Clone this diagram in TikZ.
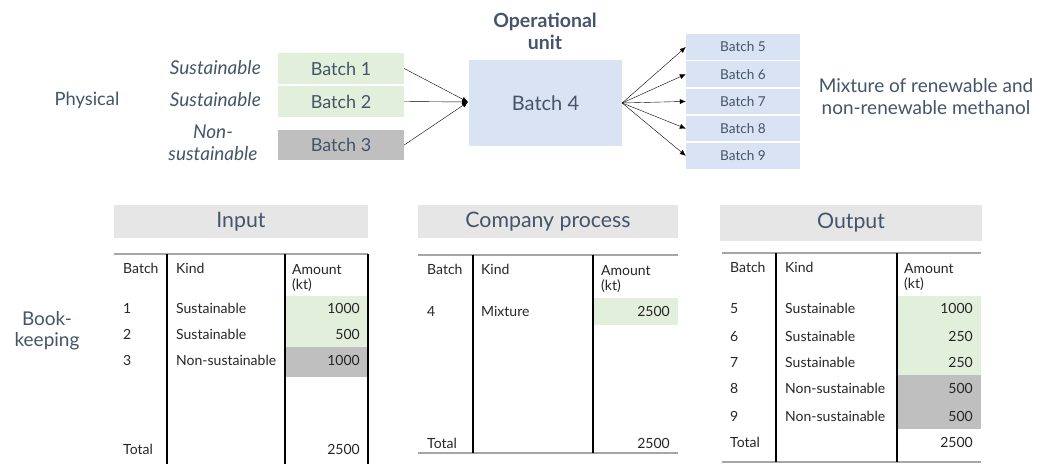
\documentclass[tikz,border=0pt]{standalone}
\usepackage{fontspec}
\setmainfont{Lato}
\usetikzlibrary{arrows.meta}
\definecolor{slate}{HTML}{44546A}
\definecolor{susgreen}{HTML}{E2EFDA}
\definecolor{nongrey}{HTML}{BFBFBF}
\definecolor{unitblue}{HTML}{DAE3F3}
\definecolor{headgrey}{HTML}{E7E6E6}
\definecolor{rulegrey}{HTML}{A6A6A6}
\newcommand{\fs}[1]{\fontsize{#1}{1.2\dimexpr#1pt\relax}\selectfont}

\begin{document}
\begin{tikzpicture}[
x=1pt,y=-1pt,
inbatch/.style={rectangle,inner sep=0pt,minimum width=126pt,text=slate,font=\fs{18}},
unit/.style={rectangle,fill=unitblue,inner sep=0pt,minimum width=153pt,minimum height=86pt,text=slate,font=\fs{20}},
outbatch/.style={rectangle,fill=unitblue,inner sep=0pt,minimum width=114pt,minimum height=25.5pt,text=slate,font=\fs{13.6}},
side/.style={text=slate,inner sep=0pt,align=center,font=\fontsize{18.3}{22}\selectfont},
kind/.style={text=slate,inner sep=0pt,font=\fontsize{19}{22}\selectfont\itshape},
flow/.style={draw=black,thin,-{Latex[length=6pt,width=5pt]}},
header/.style={rectangle,fill=headgrey,inner sep=0pt,text=slate,font=\fs{21.3}},
cell/.style={anchor=base west,inner sep=0pt,text=black!85,font=\fs{14}},
num/.style={anchor=base east,inner sep=0pt,text=black!85,font=\fs{14}},
colrule/.style={draw=black,line width=1.1pt},
rowrule/.style={draw=rulegrey,line width=1.5pt}
]

\useasboundingbox (0,0) rectangle (1040,464);

% Physical flow: inputs
\node [side] (phys) at (87,100) {Physical};
\node [inbatch,fill=susgreen,minimum height=31pt] (b1) at (341,68.5) {Batch 1};
\node [inbatch,fill=susgreen,minimum height=31pt] (b2) at (341,101.5) {Batch 2};
\node [inbatch,fill=nongrey,minimum height=30pt] (b3) at (341,145) {Batch 3};
\node [kind,anchor=east] (k1) at (261,68) {Sustainable};
\node [kind,anchor=east] (k2) at (261,100) {Sustainable};
\node [kind,align=center] (k3) at (213,143) {Non-\\sustainable};

% Operational unit
\node [unit] (b4) at (545.5,103) {Batch 4};
\node [side,font=\fontsize{19.5}{22}\selectfont\bfseries] (title) at (545,31) {Operational\\unit};
\coordinate (join) at (468,102);
\foreach \b in {b1,b2,b3}{
  \draw [flow] (\b.east) -- (join);
}

% Outputs
\foreach \n [count=\i] in {5,...,9}{
  \pgfmathsetmacro\ny{47+(\i-1)*27.2};
  \node [outbatch] (o\n) at (743,\ny) {Batch \n};
  \draw [flow] (b4.east) -- (o\n.west);
}
\node [side,font=\fontsize{19}{22}\selectfont] (mix) at (926,97) {Mixture of renewable and\\non-renewable methanol};

% Bookkeeping
\node [side,font=\fontsize{19}{21}\selectfont] (book) at (47,331) {Book-\\keeping};

% Input table
\node [header,minimum width=254pt,minimum height=33pt] (hin) at (241,221.5) {Input};
\fill [susgreen] (285,296) rectangle (368,347);
\fill [nongrey] (285,347) rectangle (368,377);
\draw [rowrule] (114,254) -- (368,254);
\draw [colrule] (167,254) -- (167,464);
\draw [colrule] (285,254) -- (285,464);
\draw [colrule] (368,254) -- (368,464);
\node [cell] (in-hb) at (123,273) {Batch};
\node [cell] (in-hk) at (176,273) {Kind};
\node [cell,align=left] (in-ha) at (292,289) {Amount\\[-2pt](kt)};
\foreach \b/\k/\a/\y in {1/Sustainable/1000/313,2/Sustainable/500/339,3/Non-sustainable/1000/365}{
  \node [cell] (in-b\b) at (123,\y) {\b};
  \node [cell] (in-k\b) at (176,\y) {\k};
  \node [num] (in-a\b) at (360,\y) {\a};
}
\node [cell] (in-tot) at (123,454) {Total};
\node [num] (in-sum) at (360,454) {2500};

% Company process table
\node [header,minimum width=260pt,minimum height=33pt] (hcp) at (548,221.5) {Company process};
\fill [susgreen] (593,298) rectangle (678,325);
\draw [rowrule] (418,255) -- (678,255);
\draw [rowrule] (418,453) -- (678,453);
\draw [colrule] (473,255) -- (473,453);
\draw [colrule] (593,255) -- (593,453);
\node [cell] (cp-hb) at (427,274) {Batch};
\node [cell] (cp-hk) at (481,274) {Kind};
\node [cell,align=left] (cp-ha) at (601,290) {Amount\\[-2pt](kt)};
\node [cell] (cp-b4) at (427,316) {4};
\node [cell] (cp-k4) at (481,316) {Mixture};
\node [num] (cp-a4) at (670,316) {2500};
\node [cell] (cp-tot) at (427,448) {Total};
\node [num] (cp-sum) at (670,448) {2500};

% Output table
\node [header,minimum width=262pt,minimum height=36pt] (hout) at (851,223) {Output};
\fill [susgreen] (897,296) rectangle (981,375);
\fill [nongrey] (897,375) rectangle (981,429);
\draw [rowrule] (722,253) -- (981,253);
\draw [rowrule] (722,462) -- (981,462);
\draw [colrule] (776,253) -- (776,462);
\draw [colrule] (897,253) -- (897,462);
\node [cell] (out-hb) at (730,272) {Batch};
\node [cell] (out-hk) at (785,272) {Kind};
\node [cell,align=left] (out-ha) at (904,288) {Amount\\[-2pt](kt)};
\foreach \b/\k/\a/\y in {5/Sustainable/1000/313,6/Sustainable/250/341,7/Sustainable/250/367,8/Non-sustainable/500/393,9/Non-sustainable/500/421}{
  \node [cell] (out-b\b) at (730,\y) {\b};
  \node [cell] (out-k\b) at (785,\y) {\k};
  \node [num] (out-a\b) at (973,\y) {\a};
}
\node [cell] (out-tot) at (730,447) {Total};
\node [num] (out-sum) at (973,447) {2500};

\end{tikzpicture}
\end{document}
